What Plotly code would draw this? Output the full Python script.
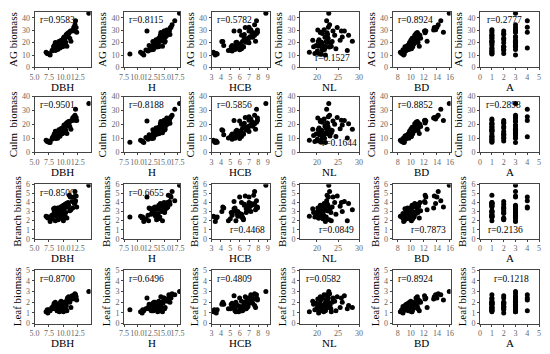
import plotly.graph_objects as go

# ---- per-tree data (read/estimated from the reference) ----
DBH = [7.0, 7.2, 7.3, 7.5, 7.7, 8.0, 8.1, 8.3, 8.4, 8.5, 8.6, 8.7, 8.8, 8.9, 9.0, 9.1, 9.2, 9.3, 9.5,
       9.6, 9.7, 9.8, 9.9, 10.0, 10.1, 10.2, 10.3, 10.4, 10.5, 10.6, 10.7, 10.8, 10.9, 11.0, 11.2, 11.3,
       11.5, 11.6, 11.8, 11.9, 12.0, 12.1, 12.2, 12.3, 14.4, 8.9, 9.4, 9.8, 10.0, 10.3, 10.6, 11.1, 9.0,
       12.0, 10.5, 8.6, 9.6]
H = [10.6, 11.0, 10.9, 8.6, 11.2, 12.0, 11.6, 12.4, 12.9, 12.2, 13.1, 12.7, 13.4, 12.6, 13.0, 13.6, 12.9,
     13.8, 13.3, 14.2, 13.7, 14.5, 13.9, 14.0, 14.6, 13.5, 14.8, 15.1, 14.3, 15.3, 14.9, 15.6, 14.4, 15.8,
     11.8, 15.2, 16.0, 15.5, 16.3, 15.9, 16.5, 17.0, 16.2, 15.7, 17.9, 13.2, 12.8, 13.9, 14.7, 13.6, 14.1,
     14.6, 13.0, 15.0, 16.1, 12.1, 14.0]
HCB = [3.2, 3.3, 3.5, 3.6, 3.4, 5.2, 5.0, 5.4, 5.2, 4.3, 5.6, 6.0, 5.8, 6.2, 5.5, 6.4, 4.1, 5.9, 4.2,
       6.3, 7.0, 6.8, 5.7, 6.5, 7.2, 6.9, 7.4, 6.7, 7.6, 7.1, 7.8, 6.2, 7.3, 7.5, 6.0, 7.7, 5.4, 7.9, 7.0,
       7.2, 7.6, 7.8, 6.6, 7.9, 8.8, 5.1, 5.8, 6.4, 5.6, 6.1, 6.3, 6.9, 5.5, 7.0, 6.5, 4.8, 6.7]
NL = [18.2, 19.5, 20.4, 21.0, 22.0, 20.1, 21.4, 23.1, 19.8, 20.6, 22.5, 21.2, 20.9, 24.5, 21.8, 22.9,
      20.3, 21.6, 23.6, 22.2, 20.7, 25.5, 21.1, 22.6, 26.0, 20.5, 21.9, 23.3, 27.5, 22.1, 21.3, 24.2, 20.8,
      22.4, 23.8, 28.4, 26.5, 20.2, 22.7, 21.7, 23.0, 22.3, 24.8, 20.9, 22.8, 19.2, 21.5, 22.0, 23.4, 21.0,
      20.4, 22.6, 21.3, 25.8, 22.5, 27.2, 19.0]
BD = [8.4, 8.6, 8.8, 9.0, 8.9, 9.2, 9.4, 9.1, 9.6, 9.5, 9.8, 8.8, 9.9, 10.1, 9.7, 10.0, 10.3, 10.2, 10.4,
      10.5, 10.0, 10.6, 10.8, 10.2, 10.9, 11.0, 10.7, 11.1, 10.6, 11.2, 10.8, 11.4, 11.0, 12.2, 12.3, 12.5,
      12.1, 13.5, 14.0, 13.8, 14.2, 14.6, 13.6, 15.0, 15.9, 9.3, 9.6, 10.3, 10.1, 10.5, 11.3, 11.5, 9.9,
      12.2, 11.2, 9.0, 10.0]
A = [1, 1, 2, 1, 3, 1, 2, 3, 1, 3, 1, 2, 3, 1, 3, 2, 1, 3, 1, 3, 2, 1, 3, 1, 3, 2, 1, 3, 1, 3, 2, 1, 3,
     1, 3, 3, 2, 3, 4, 1, 3, 4, 3, 4, 3, 2, 1, 2, 3, 1, 3, 2, 4, 1, 2, 1, 3]
CULM = [8.6, 7.6, 8.0, 7.2, 7.0, 9.2, 10.5, 11.6, 13.0, 12.5, 15.0, 9.8, 14.2, 11.2, 10.0, 12.9, 16.2,
        13.8, 15.5, 17.0, 14.8, 16.8, 15.8, 18.0, 19.5, 17.3, 18.6, 16.0, 20.5, 19.0, 21.5, 20.0, 22.0,
        21.0, 22.5, 16.5, 22.8, 24.5, 25.5, 23.8, 26.5, 30.8, 25.0, 22.8, 35.0, 12.0, 11.5, 13.2, 14.0,
        15.2, 13.5, 18.5, 11.0, 23.0, 20.8, 10.2, 16.5]
BRANCH = [2.5, 2.4, 2.3, 2.4, 1.9, 2.6, 2.2, 3.3, 2.9, 3.4, 3.1, 2.8, 2.5, 2.7, 3.2, 2.1, 3.0, 2.6, 3.5,
          2.4, 3.3, 3.6, 2.8, 3.7, 3.0, 3.4, 3.8, 2.9, 3.9, 3.6, 3.5, 4.0, 3.7, 4.8, 4.6, 3.2, 4.1, 3.4,
          4.6, 3.9, 5.2, 4.2, 4.7, 3.5, 5.9, 2.9, 3.0, 2.2, 2.0, 2.5, 2.3, 3.1, 3.4, 4.0, 3.8, 2.0, 3.3]
LEAF = [1.1, 1.3, 1.0, 1.3, 1.2, 1.5, 1.4, 1.7, 1.9, 1.8, 2.0, 1.6, 1.7, 1.2, 1.3, 1.5, 1.8, 1.1, 2.0,
        1.6, 1.9, 1.5, 1.7, 1.8, 2.0, 1.6, 1.9, 1.4, 1.7, 2.2, 2.4, 2.1, 2.5, 2.3, 2.4, 1.5, 2.6, 2.3,
        2.4, 2.7, 2.8, 2.7, 2.5, 2.2, 3.0, 1.8, 1.2, 1.3, 1.1, 1.5, 1.2, 2.0, 1.2, 2.4, 2.0, 1.4, 2.1]
AG = [12.2, 11.3, 11.3, 10.9, 10.1, 13.3, 14.1, 16.6, 17.8, 17.7, 20.1, 14.2, 18.4, 15.1, 14.5, 16.5,
      21.0, 17.5, 21.0, 21.0, 20.0, 21.9, 20.3, 23.5, 24.5, 22.3, 24.3, 20.3, 26.1, 24.8, 27.4, 26.1,
      28.2, 28.1, 29.5, 21.2, 29.5, 30.2, 32.5, 30.4, 34.5, 37.7, 32.2, 28.5, 43.9, 16.7, 15.7, 16.7,
      17.1, 19.2, 17.0, 23.6, 15.6, 29.4, 26.6, 13.6, 21.9]

X_NAMES = ["DBH", "H", "HCB", "NL", "BD", "A"]
Y_NAMES = ["AG biomass", "Culm  biomass", "Branch biomass", "Leaf biomass"]
R_LABELS = [
    ["r=0.9583", "r=0.8115", "r=0.5782", "r=0.1527", "r=0.8924", "r=0.2777"],
    ["r=0.9501", "r=0.8188", "r=0.5856", "r=0.1644", "r=0.8852", "r=0.2898"],
    ["r=0.8500", "r=0.6655", "r=0.4468", "r=0.0849", "r=0.7873", "r=0.2136"],
    ["r=0.8700", "r=0.6496", "r=0.4809", "r=0.0582", "r=0.8924", "r=0.1218"],
]

xdata = [DBH, H, HCB, NL, BD, A]
ydata = [AG, CULM, BRANCH, LEAF]

# axis configuration
x_cfg = [
    dict(range=[5, 14.7], dtick=2.5, tick0=5, tickformat=".1f"),
    dict(range=[7.5, 18.0], dtick=2.5, tick0=7.5, tickformat=".1f"),
    dict(range=[3, 9.2], dtick=1, tick0=3),
    dict(range=[16, 30], dtick=5, tick0=20),
    dict(range=[7.2, 16.1], dtick=2, tick0=8),
    dict(range=[0, 5], dtick=1, tick0=0),
]
y_cfg = [
    dict(range=[0, 45], dtick=10),
    dict(range=[0, 40], dtick=10),
    dict(range=[0, 6], dtick=1),
    dict(range=[0, 5], dtick=1),
]

W, Hpx = 550, 354
col_px = [(30, 87), (121, 178), (210, 269), (300, 360), (394, 453), (483, 543)]
row_px = [(8, 65), (95, 152), (185, 241), (273, 328)]

# r label positions: (x, y, xanchor, yanchor)
pos = {}
for r in range(4):
    for c in range(6):
        pos[(r, c)] = (0.06, 0.97, "left", "top")
pos[(0, 3)] = (0.88, 0.04, "right", "bottom")
pos[(1, 3)] = (0.99, 0.04, "right", "bottom")
pos[(2, 2)] = (0.96, 0.04, "right", "bottom")
pos[(2, 3)] = (0.94, 0.04, "right", "bottom")
pos[(2, 4)] = (0.96, 0.04, "right", "bottom")
pos[(2, 5)] = (0.10, 0.04, "left", "bottom")
pos[(3, 5)] = (0.20, 0.97, "left", "top")
pos[(0, 5)] = (0.08, 0.97, "left", "top")

FONT = "Liberation Serif, Times New Roman, serif"
fig = go.Figure()
layout = dict(width=W, height=Hpx, margin=dict(l=0, r=0, t=0, b=0),
              paper_bgcolor="white", plot_bgcolor="white", showlegend=False,
              font=dict(family=FONT, color="black"), annotations=[])

for r in range(4):
    for c in range(6):
        k = r * 6 + c + 1
        xs = "x" if k == 1 else f"x{k}"
        ys = "y" if k == 1 else f"y{k}"
        fig.add_trace(go.Scatter(x=xdata[c], y=ydata[r], mode="markers", xaxis=xs, yaxis=ys,
                                 marker=dict(color="black", size=5, line=dict(width=0))))
        x0, x1 = col_px[c]
        y0, y1 = row_px[r]
        common = dict(showgrid=False, zeroline=False, showline=True, mirror=True,
                      linecolor="#444", linewidth=1, ticks="outside", ticklen=2,
                      tickcolor="#444", tickangle=0,
                      tickfont=dict(size=8, color="#666", family=FONT))
        xa = dict(common, domain=[x0 / W, x1 / W], anchor=ys, **x_cfg[c])
        ya = dict(common, domain=[1 - y1 / Hpx, 1 - y0 / Hpx], anchor=xs,
                  title=dict(text=Y_NAMES[r], font=dict(size=11, family=FONT), standoff=2),
                  **y_cfg[r])
        layout["xaxis" if k == 1 else f"xaxis{k}"] = xa
        layout["yaxis" if k == 1 else f"yaxis{k}"] = ya
        # x-axis title as an annotation below the tick labels
        layout["annotations"].append(dict(
            text=X_NAMES[c], xref=f"{xs} domain", yref="paper",
            x=0.5, y=1 - (y1 + 20) / Hpx, xanchor="center", yanchor="middle",
            showarrow=False, font=dict(size=11, family=FONT, color="black")))
        px_, py_, xan, yan = pos[(r, c)]
        layout["annotations"].append(dict(
            text=R_LABELS[r][c], xref=f"{xs} domain", yref=f"{ys} domain",
            x=px_, y=py_, xanchor=xan, yanchor=yan, showarrow=False,
            font=dict(size=9.5, family=FONT, color="black")))

fig.update_layout(**layout)
fig.write_html("out.html", config={"displayModeBar": False},
               post_script="document.body.style.margin='0';document.body.style.overflow='hidden';")
